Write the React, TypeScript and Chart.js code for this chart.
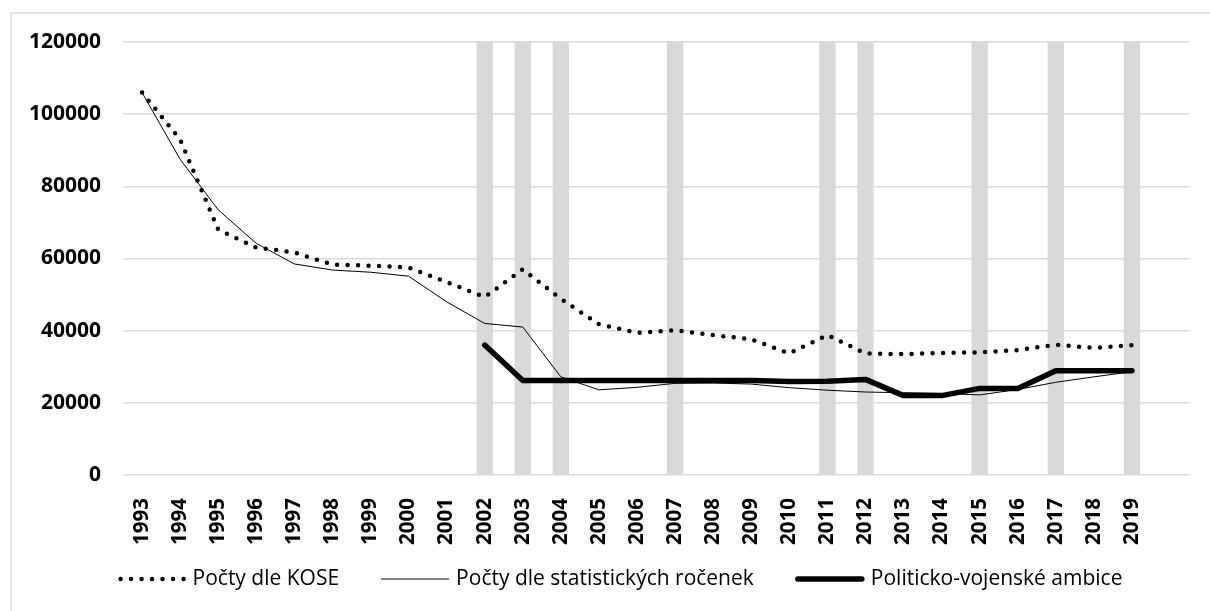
import React, { useEffect, useRef } from "react";
import { Chart, registerables } from "chart.js";

Chart.register(...registerables);

const years = [
  "1993", "1994", "1995", "1996", "1997", "1998", "1999", "2000", "2001",
  "2002", "2003", "2004", "2005", "2006", "2007", "2008", "2009", "2010",
  "2011", "2012", "2013", "2014", "2015", "2016", "2017", "2018", "2019",
];

const kose = [
  106000, 93000, 68000, 63000, 61700, 58300, 58000, 57500, 53500,
  49300, 57000, 48800, 41800, 39400, 40100, 38800, 37600, 33700,
  38800, 33700, 33500, 33800, 34000, 34600, 36100, 35200, 36000,
];

const rocenky = [
  106000, 87500, 73500, 64200, 58500, 56800, 56200, 55100, 48000,
  42000, 41000, 27200, 23600, 24300, 25400, 25500, 25200, 24200,
  23500, 23000, 22800, 22600, 22200, 23700, 25700, 27200, 28600,
];

const ambice = [
  null, null, null, null, null, null, null, null, null,
  36000, 26200, 26200, 26200, 26200, 26200, 26200, 26200, 25900,
  26000, 26500, 22000, 22000, 24000, 24000, 28900, 28900, 28900,
];

const highlightYears = ["2002", "2003", "2004", "2007", "2011", "2012", "2015", "2017", "2019"];

const seriesNames = [
  "Počty dle KOSE",
  "Počty dle statistických ročenek",
  "Politicko-vojenské ambice",
];

const Y_MAX = 120000;
const Y_STEP = 20000;

const FONT = "'Open Sans', Lato, sans-serif";

export default function App() {
  const ref = useRef<HTMLCanvasElement | null>(null);

  useEffect(() => {
    document.body.style.margin = "0";
    const canvas = ref.current;
    if (!canvas) return;

    const labels = [...years, ""];
    const band = labels.map((l) => (highlightYears.includes(l) ? Y_MAX : null));

    const framePlugin = {
      id: "frame",
      beforeDraw(chart: any) {
        const ctx = chart.ctx;
        ctx.save();
        ctx.strokeStyle = "#d9d9d9";
        ctx.lineWidth = 1.5;
        ctx.beginPath();
        ctx.moveTo(11, chart.height);
        ctx.lineTo(11, 13);
        ctx.lineTo(chart.width, 13);
        ctx.stroke();
        ctx.restore();
      },
    };

    const legendPlugin = {
      id: "customLegend",
      afterDraw(chart: any) {
        const ctx = chart.ctx;
        ctx.save();
        ctx.font = `21px ${FONT}`;
        ctx.fillStyle = "#000";
        ctx.textBaseline = "middle";
        ctx.textAlign = "left";
        const sampleW = 68;
        const gapText = 7;
        const gapItem = 42;
        const widths = seriesNames.map((n) => sampleW + gapText + ctx.measureText(n).width);
        const total = widths.reduce((a, b) => a + b, 0) + gapItem * (seriesNames.length - 1);
        let x = 620 - total / 2;
        const y = 579;
        seriesNames.forEach((name, i) => {
          ctx.save();
          ctx.strokeStyle = "#000";
          ctx.beginPath();
          if (i === 0) {
            ctx.setLineDash([0, 10.5]);
            ctx.lineCap = "round";
            ctx.lineWidth = 4.5;
            ctx.moveTo(x + 3, y);
            ctx.lineTo(x + sampleW, y);
          } else if (i === 1) {
            ctx.lineWidth = 1;
            ctx.moveTo(x, y);
            ctx.lineTo(x + sampleW, y);
          } else {
            ctx.lineWidth = 5.5;
            ctx.lineCap = "round";
            ctx.moveTo(x + 2, y);
            ctx.lineTo(x + sampleW - 2, y);
          }
          ctx.stroke();
          ctx.restore();
          ctx.fillText(name, x + sampleW + gapText, y);
          x += widths[i] + gapItem;
        });
        ctx.restore();
      },
    };

    const chart = new Chart(canvas, {
      type: "line",
      data: {
        labels,
        datasets: [
          {
            type: "bar",
            label: "volby",
            data: band,
            backgroundColor: "#d9d9d9",
            borderWidth: 0,
            barPercentage: 0.43,
            categoryPercentage: 1,
            order: 10,
          } as any,
          {
            label: seriesNames[0],
            data: kose,
            borderColor: "#000",
            borderWidth: 4.5,
            borderDash: [0, 10.5],
            borderCapStyle: "round",
            borderJoinStyle: "round",
            pointRadius: 0,
            tension: 0,
            fill: false,
            order: 3,
          },
          {
            label: seriesNames[1],
            data: rocenky,
            borderColor: "#000",
            borderWidth: 1,
            pointRadius: 0,
            tension: 0,
            fill: false,
            order: 2,
          },
          {
            label: seriesNames[2],
            data: ambice,
            borderColor: "#000",
            borderWidth: 5.5,
            borderCapStyle: "round",
            borderJoinStyle: "round",
            pointRadius: 0,
            tension: 0,
            fill: false,
            order: 1,
          },
        ],
      },
      options: {
        responsive: false,
        animation: false,
        devicePixelRatio: 1,
        layout: { padding: { left: 0, right: 19, top: 42, bottom: 61 } },
        plugins: {
          legend: { display: false },
          tooltip: { enabled: false },
          title: { display: false },
        },
        scales: {
          x: {
            type: "category",
            offset: true,
            grid: { display: false },
            border: { display: false },
            ticks: {
              autoSkip: false,
              maxRotation: 90,
              minRotation: 90,
              padding: 15,
              color: "#000",
              font: { family: FONT, size: 20.5, weight: "bold" },
            },
            afterFit(scale: any) {
              scale.height = 75;
            },
          },
          y: {
            min: 0,
            max: Y_MAX,
            grid: { color: "#d9d9d9", lineWidth: 1.5, drawTicks: false },
            border: { display: false },
            ticks: {
              stepSize: Y_STEP,
              padding: 22,
              color: "#000",
              font: { family: FONT, size: 21, weight: "bold" },
              callback: (v: any) => String(v),
            },
            afterFit(scale: any) {
              scale.width = 123;
            },
          },
        },
      },
      plugins: [framePlugin, legendPlugin],
    });

    return () => chart.destroy();
  }, []);

  return (
    <div style={{ width: 1210, height: 611, position: "relative" }}>
      <canvas ref={ref} width={1210} height={611} style={{ display: "block" }} />
    </div>
  );
}
